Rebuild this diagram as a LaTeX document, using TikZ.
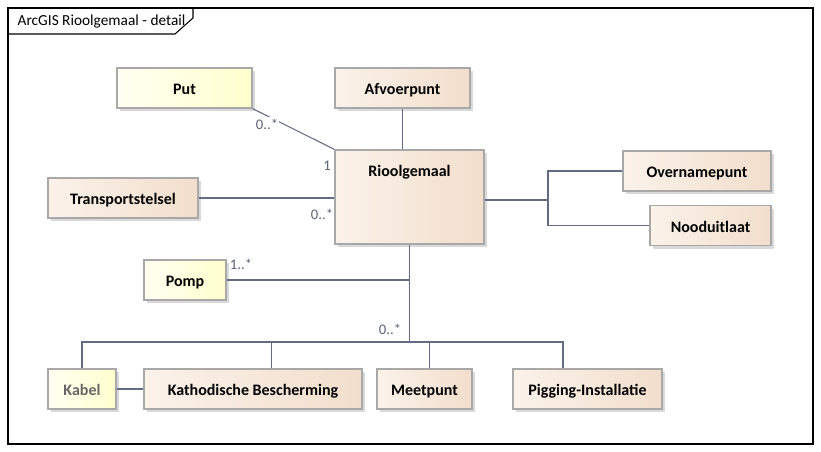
\documentclass[tikz,border=0pt]{standalone}
\usepackage{fontspec}
\setmainfont{Carlito}
\usetikzlibrary{shadows}

\definecolor{peachL}{RGB}{251,242,234}
\definecolor{peachR}{RGB}{242,222,204}
\definecolor{lemonL}{RGB}{255,255,242}
\definecolor{lemonR}{RGB}{255,255,206}
\definecolor{boxline}{RGB}{168,168,168}
\definecolor{wire}{RGB}{98,108,132}
\definecolor{multi}{RGB}{92,100,120}

\tikzset{
  umlbox/.style={draw=boxline, line width=0.9pt, minimum height=30pt,
    inner sep=0pt, text height=10pt, text depth=0pt,
    font=\fontsize{12}{14}\selectfont\bfseries,
    drop shadow={shadow xshift=2.4pt, shadow yshift=-2.4pt,
      fill=black!25, opacity=0.6}},
  peach/.style={umlbox, left color=peachL, right color=peachR},
  lemon/.style={umlbox, left color=lemonL, right color=lemonR},
  wireline/.style={draw=wire, line width=0.8pt},
  mult/.style={text=multi, font=\fontsize{11}{12}\selectfont,
    fill=white, inner sep=1pt}
}

\begin{document}
\begin{tikzpicture}[x=0.75pt,y=-0.75pt]

    \useasboundingbox (0,0) rectangle (821,452);

    %% frame and title tab
    \draw[line width=0.8pt] (8,8) rectangle (813,444);
    \draw[line width=0.8pt] (8,34) -- (175,34) -- (193,18) -- (193,8);
    \node[anchor=west, font=\fontsize{11.5}{13}\selectfont] (title) at (13,21)
      {ArcGIS Rioolgemaal - detail};

    %%%%%%%%%%%%%%%%
    %% classes
    \node[lemon, minimum width=101.25pt] (put) at (184.5,88) {Put};
    \node[peach, minimum width=101.25pt] (afvoer) at (402.5,88) {Afvoerpunt};
    \node[peach, minimum width=111.75pt, minimum height=70.5pt,
      label={[anchor=center, yshift=-17pt,
        font=\fontsize{12}{14}\selectfont\bfseries]north:Rioolgemaal}]
      (riool) at (409.5,197) {};
    \node[peach, minimum width=112.5pt] (transport) at (123,198) {Transportstelsel};
    \node[peach, minimum width=111pt] (overname) at (697,171) {Overnamepunt};
    \node[peach, minimum width=90.75pt] (nood) at (710.5,225.5) {Nooduitlaat};
    \node[lemon, minimum width=61.5pt] (pomp) at (185,280) {Pomp};

    %% bottom row
    \node[lemon, minimum width=51pt, text=black!60] (kabel) at (82,389) {Kabel};
    \node[peach, minimum width=163.5pt] (kathode) at (253,389)
      {Kathodische Bescherming};
    \node[peach, minimum width=71.25pt] (meetpunt) at (424.5,389) {Meetpunt};
    \node[peach, minimum width=111.75pt] (pigging) at (587.5,389)
      {Pigging-Installatie};

    %%%%%%%%%%%%%%%%
    %% associations round Rioolgemaal
    \draw[wireline] (put.south east) -- (riool.north west);
    \draw[wireline] (afvoer.south) -- (afvoer.south |- riool.north);
    \draw[wireline] (transport.east) -- (transport.east -| riool.west);

    % fork to the right
    \coordinate (fork) at (548,200);
    \draw[wireline] (overname.west) -| (fork) |- (nood.west);
    \draw[wireline] (fork -| riool.east) -- (fork);

    % pomp and the bus below
    \coordinate (bus) at (409.5,342);
    \draw[wireline] (riool.south) -- (bus);
    \draw[wireline] (pomp.east) -- (pomp.east -| bus);
    \draw[wireline] (kabel.north) |- (bus) -| ([xshift=-18.4pt]pigging.north);
    \draw[wireline] ([xshift=14pt]kathode.north) -- ++(0,-27);
    \draw[wireline] ([xshift=3.4pt]meetpunt.north) -- ++(0,-27);
    \draw[wireline] (kabel.east) -- (kathode.west);

    %% multiplicities
    \node[mult] (m-put) at (267,124) {0..*};
    \node[mult] (m-one) at (327,166) {1};
    \node[mult] (m-transport) at (322,214) {0..*};
    \node[mult] (m-pomp) at (241,264) {1..*};
    \node[mult] (m-bus) at (390,329) {0..*};

  \end{tikzpicture}
\end{document}
